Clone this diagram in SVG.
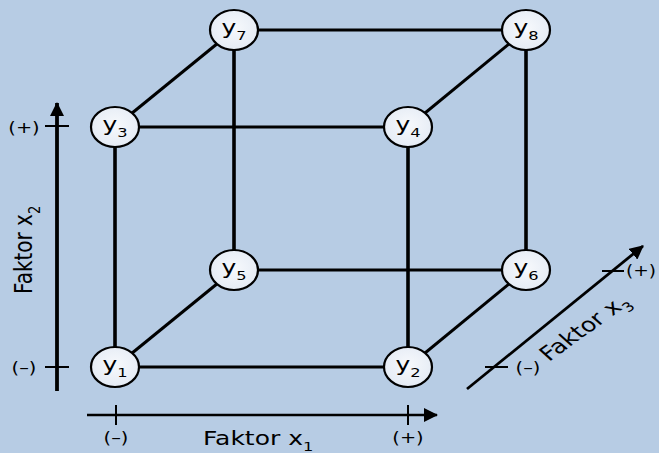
<svg xmlns="http://www.w3.org/2000/svg" width="659" height="453" viewBox="0 0 659 453">
<defs>
<marker id="ah" markerWidth="14" markerHeight="14" refX="13" refY="7" orient="auto" markerUnits="userSpaceOnUse" viewBox="0 0 14 14">
<path d="M0,0 L14,7 L0,14 Z" fill="#000"/>
</marker>
<radialGradient id="ng" cx="0.5" cy="0.45" r="0.6">
<stop offset="0" stop-color="#f7f9fc"/>
<stop offset="1" stop-color="#e3eaf4"/>
</radialGradient>
</defs>
<style>
.e{stroke:#000;stroke-width:3;fill:none}
.ev{stroke:#000;stroke-width:3.6;fill:none}
.eh{stroke:#000;stroke-width:2.8;fill:none}
.tk{stroke:#000;stroke-width:2}
.n ellipse{fill:url(#ng);stroke:#000;stroke-width:2.2}
.t{font-family:"DejaVu Sans",sans-serif;fill:#000}
.nl{font-size:20px;text-anchor:middle}
.sub{font-size:13px}
.lab{font-size:20px}
.pm{font-size:15.5px;text-anchor:middle}
</style>
<rect width="659" height="453" fill="#b7cce4"/>
<g id="connectors">
<line class="eh" x1="115" y1="367" x2="408" y2="367"/>
<line class="eh" x1="115" y1="127" x2="408" y2="127"/>
<line class="ev" x1="115" y1="127" x2="115" y2="367"/>
<line class="ev" x1="408" y1="127" x2="408" y2="367"/>
<line class="eh" x1="234" y1="270" x2="526" y2="270"/>
<line class="eh" x1="234" y1="30" x2="526" y2="30"/>
<line class="ev" x1="234" y1="30" x2="234" y2="270"/>
<line class="ev" x1="526" y1="30" x2="526" y2="270"/>
<line class="e" x1="115" y1="367" x2="234" y2="270"/>
<line class="e" x1="408" y1="367" x2="526" y2="270"/>
<line class="e" x1="115" y1="127" x2="234" y2="30"/>
<line class="e" x1="408" y1="127" x2="526" y2="30"/>
</g>
<g id="axis-x2">
<line stroke="#000" stroke-width="3.8" x1="57" y1="391" x2="57" y2="103" marker-end="url(#ah)"/>
<line class="tk" x1="45" y1="126" x2="69" y2="126"/>
<line class="tk" x1="45" y1="367" x2="69" y2="367"/>
<text class="t pm" transform="translate(24,133) scale(1.25,1)">(+)</text>
<text class="t pm" transform="translate(24,373) scale(1.25,1)">(–)</text>
<text class="t lab" transform="translate(32,294) scale(1.25,1) rotate(-90)" font-size="19.5">Faktor x<tspan class="sub" dy="6">2</tspan></text>
</g>
<g id="axis-x1">
<line stroke="#000" stroke-width="2.6" x1="87" y1="415" x2="437" y2="415" marker-end="url(#ah)"/>
<line class="tk" x1="116" y1="405" x2="116" y2="425"/>
<line class="tk" x1="408" y1="405" x2="408" y2="425"/>
<text class="t pm" transform="translate(116,443) scale(1.25,1)">(–)</text>
<text class="t pm" transform="translate(408,443) scale(1.25,1)">(+)</text>
<text class="t lab" transform="translate(203,445) scale(1.25,1)">Faktor x<tspan class="sub" dy="6">1</tspan></text>
</g>
<g id="axis-x3">
<line stroke="#000" stroke-width="2.8" x1="467" y1="389" x2="643" y2="246" marker-end="url(#ah)"/>
<line class="tk" x1="485" y1="367" x2="508" y2="367"/>
<line class="tk" x1="602" y1="271" x2="624" y2="271"/>
<text class="t pm" transform="translate(528,373) scale(1.25,1)">(–)</text>
<text class="t pm" transform="translate(626,276) scale(1.2,1)" style="text-anchor:start">(+)</text>
<text class="t lab" transform="translate(549,362) scale(1.25,1) rotate(-42)" font-size="20.5">Faktor x<tspan class="sub" dy="6">3</tspan></text>
</g>
<g id="y1" class="n"><ellipse cx="115" cy="367" rx="24" ry="20"/><text class="t nl" transform="translate(115,371) scale(1.25,1)">y<tspan class="sub" dy="6">1</tspan></text></g>
<g id="y2" class="n"><ellipse cx="408" cy="367" rx="24" ry="20"/><text class="t nl" transform="translate(408,371) scale(1.25,1)">y<tspan class="sub" dy="6">2</tspan></text></g>
<g id="y3" class="n"><ellipse cx="115" cy="127" rx="24" ry="20"/><text class="t nl" transform="translate(115,131) scale(1.25,1)">y<tspan class="sub" dy="6">3</tspan></text></g>
<g id="y4" class="n"><ellipse cx="408" cy="127" rx="24" ry="20"/><text class="t nl" transform="translate(408,131) scale(1.25,1)">y<tspan class="sub" dy="6">4</tspan></text></g>
<g id="y5" class="n"><ellipse cx="234" cy="270" rx="24" ry="20"/><text class="t nl" transform="translate(234,274) scale(1.25,1)">y<tspan class="sub" dy="6">5</tspan></text></g>
<g id="y6" class="n"><ellipse cx="526" cy="270" rx="24" ry="20"/><text class="t nl" transform="translate(526,274) scale(1.25,1)">y<tspan class="sub" dy="6">6</tspan></text></g>
<g id="y7" class="n"><ellipse cx="234" cy="30" rx="24" ry="20"/><text class="t nl" transform="translate(234,34) scale(1.25,1)">y<tspan class="sub" dy="6">7</tspan></text></g>
<g id="y8" class="n"><ellipse cx="526" cy="30" rx="24" ry="20"/><text class="t nl" transform="translate(526,34) scale(1.25,1)">y<tspan class="sub" dy="6">8</tspan></text></g>
</svg>
